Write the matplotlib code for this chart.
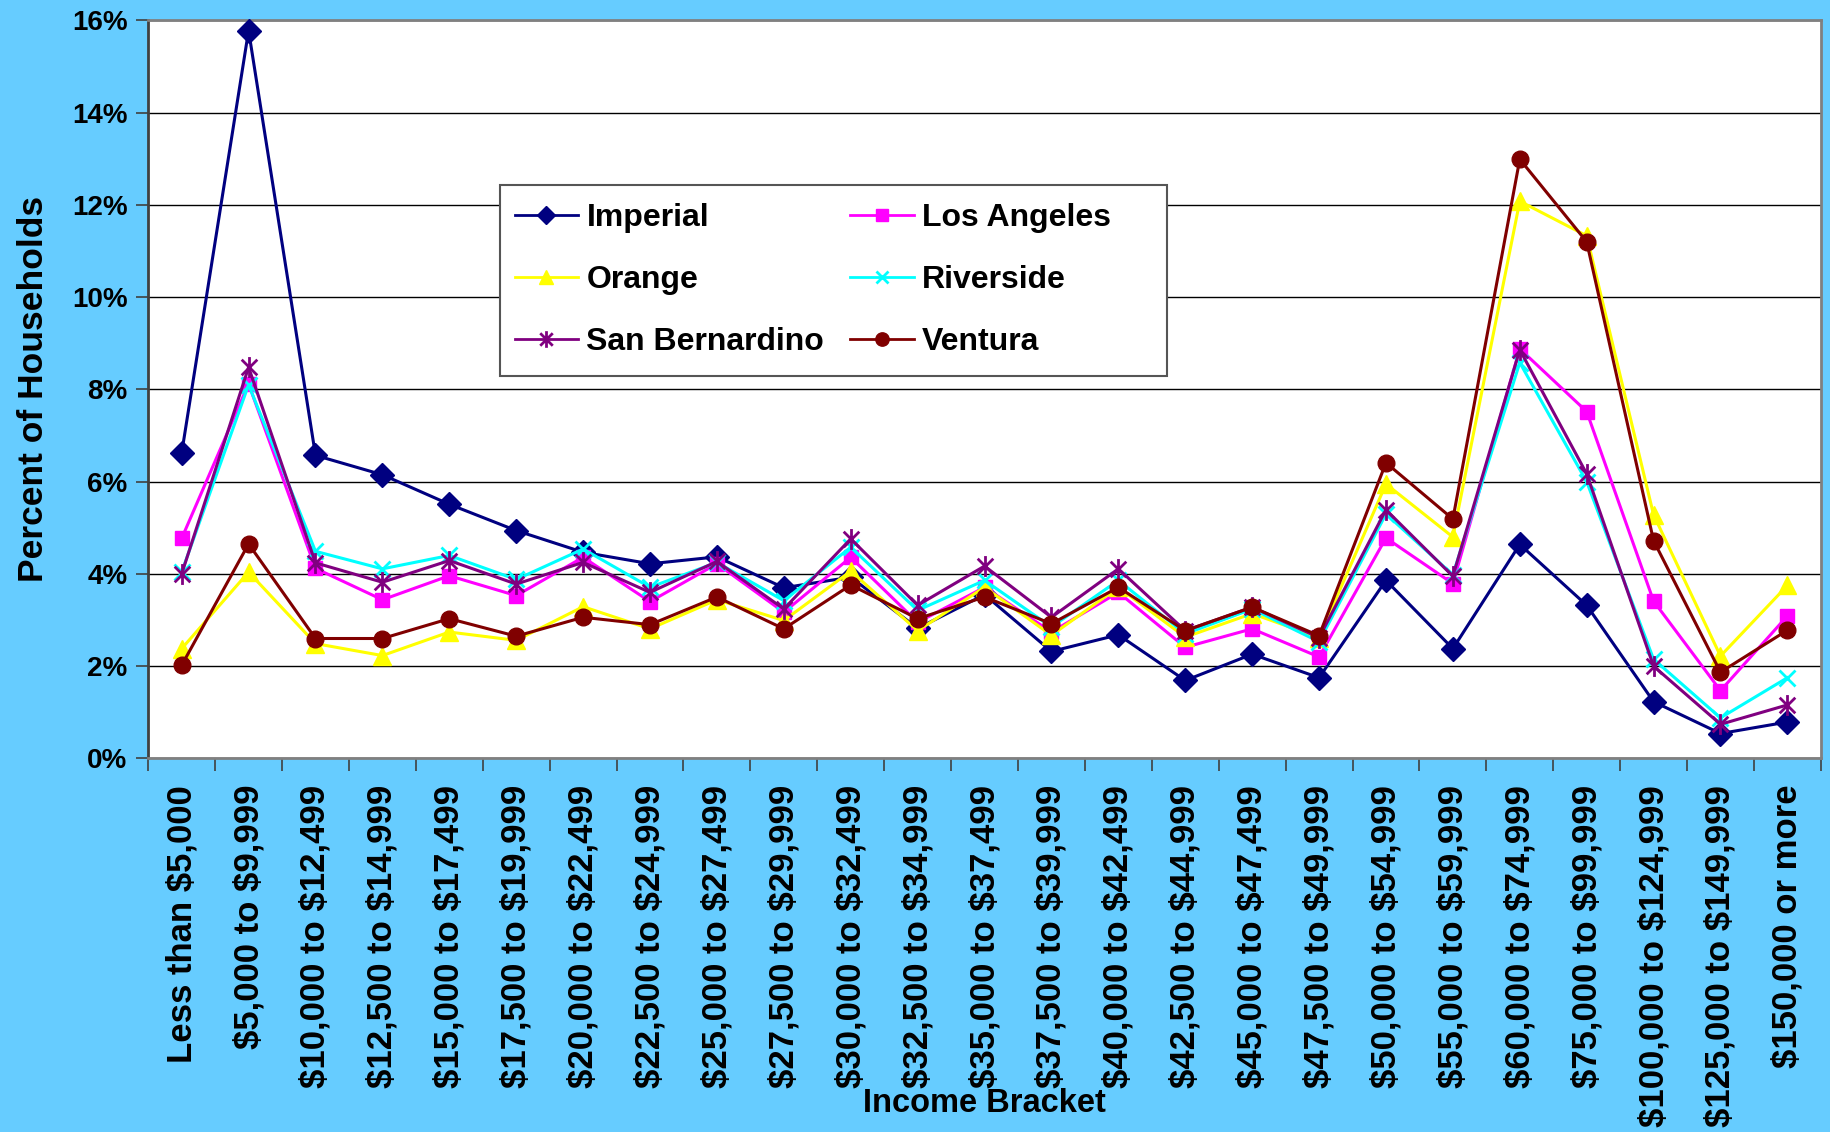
import matplotlib
matplotlib.use("Agg")
import matplotlib.pyplot as plt
from matplotlib.path import Path
from matplotlib.patches import Rectangle
from matplotlib.ticker import PercentFormatter, FixedLocator

plt.rcParams["text.parse_math"] = False

categories = ["Less than $5,000", "$5,000 to $9,999", "$10,000 to $12,499", "$12,500 to $14,999",
              "$15,000 to $17,499", "$17,500 to $19,999", "$20,000 to $22,499", "$22,500 to $24,999",
              "$25,000 to $27,499", "$27,500 to $29,999", "$30,000 to $32,499", "$32,500 to $34,999",
              "$35,000 to $37,499", "$37,500 to $39,999", "$40,000 to $42,499", "$42,500 to $44,999",
              "$45,000 to $47,499", "$47,500 to $49,999", "$50,000 to $54,999", "$55,000 to $59,999",
              "$60,000 to $74,999", "$75,000 to $99,999", "$100,000 to $124,999", "$125,000 to $149,999",
              "$150,000 or more"]

imperial = [6.62, 15.78, 6.57, 6.15, 5.51, 4.94, 4.47, 4.22, 4.37, 3.70, 3.93, 2.82, 3.55,
            2.32, 2.68, 1.69, 2.26, 1.75, 3.86, 2.38, 4.64, 3.32, 1.23, 0.54, 0.79]
los_angeles = [4.77, 8.12, 4.12, 3.44, 3.96, 3.53, 4.36, 3.40, 4.22, 3.17, 4.36, 2.95, 3.71,
               2.74, 3.60, 2.41, 2.81, 2.20, 4.78, 3.79, 8.88, 7.52, 3.41, 1.47, 3.09]
orange = [2.38, 4.04, 2.49, 2.23, 2.74, 2.56, 3.29, 2.81, 3.44, 2.99, 4.06, 2.77, 3.71,
          2.67, 3.71, 2.63, 3.14, 2.62, 5.95, 4.80, 12.08, 11.33, 5.28, 2.22, 3.75]
riverside = [4.04, 8.10, 4.49, 4.11, 4.40, 3.88, 4.54, 3.71, 4.25, 3.42, 4.58, 3.21, 3.86,
             2.85, 3.86, 2.70, 3.24, 2.53, 5.30, 3.98, 8.58, 6.00, 2.15, 0.88, 1.75]
san_bernardino = [4.00, 8.48, 4.24, 3.82, 4.29, 3.78, 4.25, 3.60, 4.27, 3.24, 4.76, 3.32, 4.17,
                  3.06, 4.11, 2.77, 3.28, 2.62, 5.39, 3.95, 8.86, 6.17, 2.00, 0.74, 1.16]
ventura = [2.02, 4.65, 2.60, 2.60, 3.03, 2.65, 3.06, 2.90, 3.50, 2.81, 3.76, 3.03, 3.50,
           2.92, 3.71, 2.77, 3.28, 2.66, 6.41, 5.19, 12.99, 11.20, 4.72, 1.87, 2.78]

fam = ["Liberation Sans", "DejaVu Sans"]
bg = "#66CCFF"

# excel style star: vertical bar plus an X
star = Path([(0, -1), (0, 1), (-0.75, -0.75), (0.75, 0.75), (-0.75, 0.75), (0.75, -0.75)],
            [Path.MOVETO, Path.LINETO] * 3)

series = [
    ("Imperial", imperial, "#000080", "D", 12),
    ("Los Angeles", los_angeles, "#FF00FF", "s", 10.5),
    ("Orange", orange, "#FFFF00", "^", 12.5),
    ("Riverside", riverside, "#00FFFF", "x", 11),
    ("San Bernardino", san_bernardino, "#800080", star, 15),
    ("Ventura", ventura, "#800000", "o", 12),
]

fig = plt.figure(figsize=(18.3, 11.32), dpi=100, facecolor=bg)
ax = fig.add_axes([0.081, 0.330, 0.914, 0.652])
ax.set_facecolor("white")

x = list(range(len(categories)))
handles = {}
for name, vals, col, mk, ms in series:
    mew = 2 if (mk == "x" or mk is star) else 1
    h, = ax.plot(x, vals, color=col, lw=2.2, marker=mk, ms=ms, mfc=col, mec=col, mew=mew,
                 label=name, clip_on=False, zorder=3)
    handles[name] = h

ax.set_xlim(-0.5, len(categories) - 0.5)
ax.set_ylim(0, 16)
ax.yaxis.set_major_locator(FixedLocator(range(0, 17, 2)))
ax.yaxis.set_major_formatter(PercentFormatter(decimals=0))
ax.grid(axis="y", color="black", lw=1.0, zorder=0)
ax.set_axisbelow(True)

ax.set_xticks(x)
ax.set_xticklabels(categories, rotation=90, fontsize=25, fontweight="bold",
                   family=fam, va="top", ha="center")
ax.set_xticks([i - 0.5 for i in range(len(categories) + 1)], minor=True)
ax.tick_params(axis="x", which="major", length=0, pad=19)
ax.tick_params(axis="x", which="minor", length=9, width=1.2, color="#404040", direction="out")
ax.tick_params(axis="y", length=9, width=1.2, color="#404040", pad=6)
for lab in ax.get_yticklabels():
    lab.set_family(fam)
    lab.set_fontsize(20)
    lab.set_fontweight("bold")

for s in ax.spines.values():
    s.set_color("#808080")
    s.set_linewidth(2)
ax.spines["left"].set_color("#404040")

ax.set_ylabel("Percent of Households", family=fam, fontsize=25.5, fontweight="bold", labelpad=16)
fig.text(0.538, 0.025, "Income Bracket", family=fam, fontsize=23.5, fontweight="bold",
         ha="center", va="center")

# legend frame drawn separately, Excel leaves extra room on the right
ax.add_patch(Rectangle((0.2101, 0.5179), 0.3989, 0.2593, transform=ax.transAxes,
                       facecolor="white", edgecolor="#555555", lw=1.5, zorder=4.9,
                       clip_on=False))
order = ["Imperial", "Orange", "San Bernardino", "Los Angeles", "Riverside", "Ventura"]
leg = ax.legend([handles[n] for n in order], order, ncol=2, loc="upper left",
                bbox_to_anchor=(0.219, 0.7525), borderaxespad=0, borderpad=0,
                prop={"family": fam, "size": 23, "weight": "bold"},
                frameon=False, handlelength=2.0, handletextpad=0.25, labelspacing=1.0,
                markerscale=0.8, columnspacing=0.8)
leg.set_zorder(5)
for lh in leg.legend_handles:
    lh.set_linewidth(2)

fig.savefig("out.png", dpi=100, facecolor=bg)
